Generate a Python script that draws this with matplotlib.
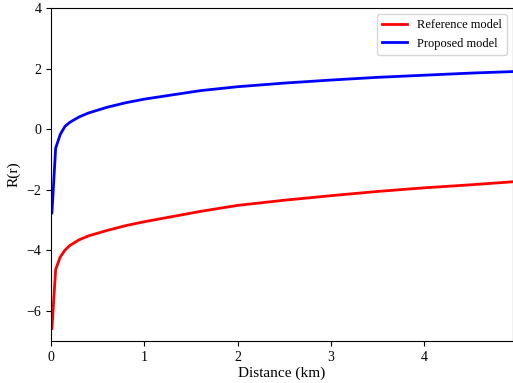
import matplotlib
matplotlib.use("Agg")
import matplotlib.pyplot as plt

plt.rcParams['font.family'] = ['Liberation Serif', 'DejaVu Serif']

# distances (km)
distance = [0.01, 0.05, 0.1, 0.15, 0.2, 0.3, 0.4, 0.6, 0.8, 1.0, 1.3, 1.6,
            2.0, 2.5, 3.0, 3.5, 4.0, 4.5, 4.95]
reference_model = [-6.59, -4.64, -4.22, -4.00, -3.85, -3.66, -3.53, -3.35, -3.19,
                   -3.06, -2.89, -2.72, -2.52, -2.35, -2.20, -2.06, -1.94, -1.84, -1.74]
proposed_model = [-2.77, -0.63, -0.17, 0.09, 0.22, 0.40, 0.53, 0.72, 0.87,
                  0.99, 1.13, 1.27, 1.40, 1.52, 1.62, 1.71, 1.78, 1.85, 1.90]

fig = plt.figure(figsize=(5.13, 3.83), dpi=100)
ax = fig.add_axes([0.0994, 0.1097, 0.9006, 0.8694])

ax.plot(distance, reference_model, color='red', lw=2, label='Reference model')
ax.plot(distance, proposed_model, color='blue', lw=2, label='Proposed model')

ax.set_xlim(0, max(distance))
ax.set_ylim(-7, 4)
ax.set_xticks([0, 1, 2, 3, 4])
ax.set_yticks([-6, -4, -2, 0, 2, 4])
ax.tick_params(labelsize=10)
ax.set_xlabel('Distance (km)', fontsize=11, labelpad=2)
ax.set_ylabel('R(r)', fontsize=11, labelpad=4)
ax.legend(loc='upper right', fontsize=9)

fig.savefig('out.png', dpi=100)
